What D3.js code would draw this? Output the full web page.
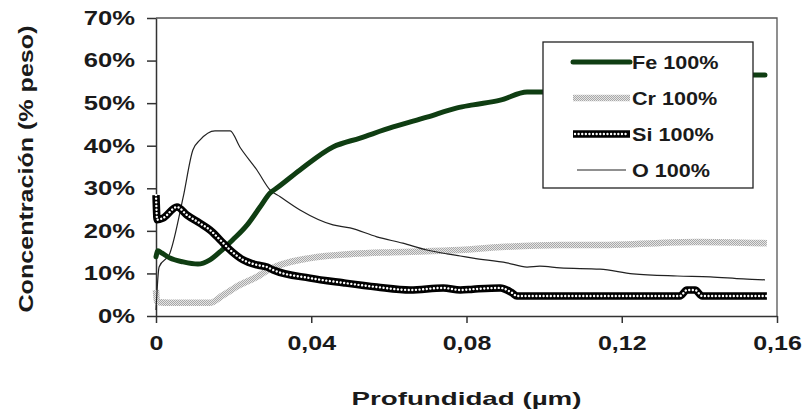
<!DOCTYPE html>
<html>
<head>
<meta charset="utf-8">
<title>Concentración vs profundidad</title>
<script src="https://cdn.jsdelivr.net/npm/d3@7"></script>
<style>
body { margin: 0; background: #fff; }
text { font-family: "Liberation Sans", Arial, sans-serif; font-weight: bold; fill: #1a1a1a; }
</style>
</head>
<body>
<div id="container"></div>
<script>
// Depth (µm) and concentration (% weight)
const depthFe = [0, 0.0005, 0.0015, 0.0036, 0.0070, 0.0108, 0.0139, 0.0170, 0.0198, 0.0235, 0.0268, 0.0294, 0.0312, 0.0371, 0.0456, 0.0526, 0.0611, 0.0698, 0.0776, 0.0817, 0.0887, 0.0956, 0.0995, 0.110, 0.125, 0.140, 0.1538, 0.1569];
const pctFe   = [13.9, 15.3, 14.8, 13.6, 12.7, 12.2, 13.2, 15.5, 17.9, 21.4, 25.6, 28.9, 30.1, 34.3, 39.7, 41.8, 44.4, 46.7, 48.9, 49.6, 50.7, 52.6, 52.6, 53.8, 55.2, 56.2, 56.6, 56.6];

const depthCr = [0, 0.0003, 0.0036, 0.0139, 0.0173, 0.0216, 0.0260, 0.0289, 0.0320, 0.0397, 0.0508, 0.0611, 0.0784, 0.0889, 0.1041, 0.1144, 0.1394, 0.1574];
const pctCr   = [6.1, 3.3, 3.1, 3.1, 4.9, 7.3, 9.2, 10.8, 12.0, 13.6, 14.6, 15.0, 15.5, 16.2, 16.7, 16.7, 17.4, 17.1];

const depthSi = [0, 0.0003, 0.0018, 0.0054, 0.0080, 0.0113, 0.0139, 0.0165, 0.0191, 0.0224, 0.0260, 0.0286, 0.0302, 0.0397, 0.0482, 0.0569, 0.0655, 0.0740, 0.0784, 0.0817, 0.0887, 0.0918, 0.0930, 0.1350, 0.1368, 0.1389, 0.1407, 0.1574];
const pctSi   = [28.4, 22.6, 23.0, 25.6, 23.7, 21.8, 20.2, 17.9, 15.5, 13.2, 12.0, 11.5, 10.8, 8.9, 7.8, 6.8, 6.1, 6.6, 6.1, 6.3, 6.6, 5.4, 4.7, 4.7, 6.1, 6.1, 4.7, 4.7];

const depthO = [0, 0.0008, 0.0036, 0.0070, 0.0095, 0.0113, 0.0152, 0.0191, 0.0216, 0.0260, 0.0294, 0.0320, 0.0371, 0.0456, 0.0500, 0.0569, 0.0636, 0.0698, 0.0750, 0.0784, 0.0817, 0.0904, 0.0956, 0.0989, 0.1041, 0.1144, 0.1229, 0.1343, 0.1428, 0.1513, 0.1569];
const pctO   = [1.4, 11.5, 14.8, 27.9, 39.0, 41.3, 43.5, 43.5, 39.7, 34.3, 29.6, 28.0, 24.9, 21.4, 20.7, 18.6, 17.1, 15.5, 14.6, 14.1, 13.6, 12.5, 11.5, 11.7, 11.3, 11.0, 9.9, 9.4, 9.2, 8.7, 8.5];

const seriesNames = ["Fe 100%", "Cr 100%", "Si 100%", "O 100%"];

const xTicks = [0, 0.04, 0.08, 0.12, 0.16];
const xTickLabels = ["0", "0,04", "0,08", "0,12", "0,16"];
const yTicks = [0, 10, 20, 30, 40, 50, 60, 70];
const yTickLabels = ["0%", "10%", "20%", "30%", "40%", "50%", "60%", "70%"];

const width = 809;
const height = 418;
const marginTop = 18;
const marginRight = 32;
const marginBottom = 102;
const marginLeft = 156;

const x = d3.scaleLinear().domain([0, 0.16]).range([marginLeft, width - marginRight]);
const y = d3.scaleLinear().domain([0, 70]).range([height - marginBottom, marginTop]);

const svg = d3.select("#container").append("svg")
    .attr("width", width)
    .attr("height", height);

svg.append("rect").attr("width", width).attr("height", height).attr("fill", "#fff");

// light grey checker used for the Cr line
const defs = svg.append("defs");
const pat = defs.append("pattern")
    .attr("id", "crHatch")
    .attr("width", 2).attr("height", 2)
    .attr("patternUnits", "userSpaceOnUse");
pat.append("rect").attr("width", 2).attr("height", 2).attr("fill", "#e6e6e6");
pat.append("rect").attr("width", 1).attr("height", 1).attr("fill", "#a8a8a8");
pat.append("rect").attr("x", 1).attr("y", 1).attr("width", 1).attr("height", 1).attr("fill", "#a8a8a8");

// stretch text horizontally, the original type is wide
function widen(sel, k) {
    sel.each(function() {
        const w = this.getComputedTextLength();
        this.setAttribute("textLength", w * k);
        this.setAttribute("lengthAdjust", "spacingAndGlyphs");
    });
}

// plot frame (top and right)
svg.append("path")
    .attr("fill", "none")
    .attr("stroke", "#555")
    .attr("stroke-width", 1.3)
    .attr("d", `M${x(0)},${y(70)}H${x(0.16)}V${y(0)}`);

// x axis
const gx = svg.append("g")
    .attr("transform", `translate(0,${y(0)})`)
    .call(d3.axisBottom(x)
        .tickValues(xTicks)
        .tickFormat((d, i) => xTickLabels[i])
        .tickSize(7)
        .tickSizeOuter(0)
        .tickPadding(13));

// y axis
const gy = svg.append("g")
    .attr("transform", `translate(${x(0)},0)`)
    .call(d3.axisLeft(y)
        .tickValues(yTicks)
        .tickFormat((d, i) => yTickLabels[i])
        .tickSize(9)
        .tickSizeOuter(0)
        .tickPadding(12));

[gx, gy].forEach(g => {
    g.select(".domain").attr("stroke", "#333").attr("stroke-width", 1.5);
    g.selectAll(".tick line").attr("stroke", "#333").attr("stroke-width", 1.5);
    g.selectAll(".tick text").attr("font-size", 20).attr("fill", "#1a1a1a")
        .style("font-family", '"Liberation Sans", Arial, sans-serif').style("font-weight", "bold");
});
widen(gx.selectAll(".tick text"), 1.25);
widen(gy.selectAll(".tick text"), 1.28);

// axis titles
svg.append("text")
    .attr("x", (x(0) + x(0.16)) / 2)
    .attr("y", 405)
    .attr("text-anchor", "middle")
    .attr("font-size", 19)
    .attr("textLength", 230)
    .attr("lengthAdjust", "spacingAndGlyphs")
    .text("Profundidad (µm)");

svg.append("text")
    .attr("transform", `translate(33,${(y(0) + y(70)) / 2 + 2}) rotate(-90)`)
    .attr("text-anchor", "middle")
    .attr("font-size", 21)
    .attr("textLength", 287)
    .attr("lengthAdjust", "spacingAndGlyphs")
    .text("Concentración (% peso)");

// lines
const line = d3.line()
    .curve(d3.curveMonotoneX)
    .x(d => x(d[0]))
    .y(d => y(d[1]));

const feData = d3.zip(depthFe, pctFe);
const crData = d3.zip(depthCr, pctCr);
const siData = d3.zip(depthSi, pctSi);
const oData = d3.zip(depthO, pctO);

svg.append("path")
    .attr("fill", "none")
    .attr("stroke", "url(#crHatch)")
    .attr("stroke-width", 6.5)
    .attr("stroke-linejoin", "round")
    .attr("d", line(crData));

svg.append("path")
    .attr("fill", "none")
    .attr("stroke", "#222")
    .attr("stroke-width", 1.2)
    .attr("d", line(oData));

svg.append("path")
    .attr("fill", "none")
    .attr("stroke", "#0f3d12")
    .attr("stroke-width", 5)
    .attr("stroke-linejoin", "round")
    .attr("stroke-linecap", "round")
    .attr("d", line(feData));

svg.append("path")
    .attr("fill", "none")
    .attr("stroke", "#000")
    .attr("stroke-width", 7.5)
    .attr("stroke-linejoin", "round")
    .attr("d", line(siData));
svg.append("path")
    .attr("fill", "none")
    .attr("stroke", "#fff")
    .attr("stroke-width", 2.4)
    .attr("stroke-linecap", "round")
    .attr("stroke-dasharray", "0.01,3.6")
    .attr("d", line(siData));

// legend
const lg = svg.append("g");
lg.append("rect")
    .attr("x", 543).attr("y", 42)
    .attr("width", 210).attr("height", 146)
    .attr("fill", "#fff")
    .attr("stroke", "#222")
    .attr("stroke-width", 1.3);

const legendStyles = [
    {stroke: "#0f3d12", w: 5},
    {stroke: "url(#crHatch)", w: 6.5},
    {stroke: "#000", w: 7.5, dots: true},
    {stroke: "#222", w: 1.2, inset: 4}
];

seriesNames.forEach((name, i) => {
    const ly = 62 + i * 36;
    const s = legendStyles[i];
    const x0 = 573 + (s.inset || 0), x1 = 630 - (s.inset || 0);
    lg.append("line")
        .attr("x1", x0).attr("x2", x1).attr("y1", ly).attr("y2", ly)
        .attr("stroke", s.stroke).attr("stroke-width", s.w)
        .attr("stroke-linecap", i === 0 ? "round" : "butt");
    if (s.dots) {
        lg.append("line")
            .attr("x1", x0 + 2).attr("x2", x1 - 1).attr("y1", ly).attr("y2", ly)
            .attr("stroke", "#fff").attr("stroke-width", 2.4)
            .attr("stroke-linecap", "round")
            .attr("stroke-dasharray", "0.01,3.6");
    }
    lg.append("text")
        .attr("class", "legtext")
        .attr("x", 632)
        .attr("y", ly + 6.5)
        .attr("font-size", 18)
        .text(name);
});
widen(lg.selectAll(".legtext"), 1.2);
</script>
</body>
</html>
